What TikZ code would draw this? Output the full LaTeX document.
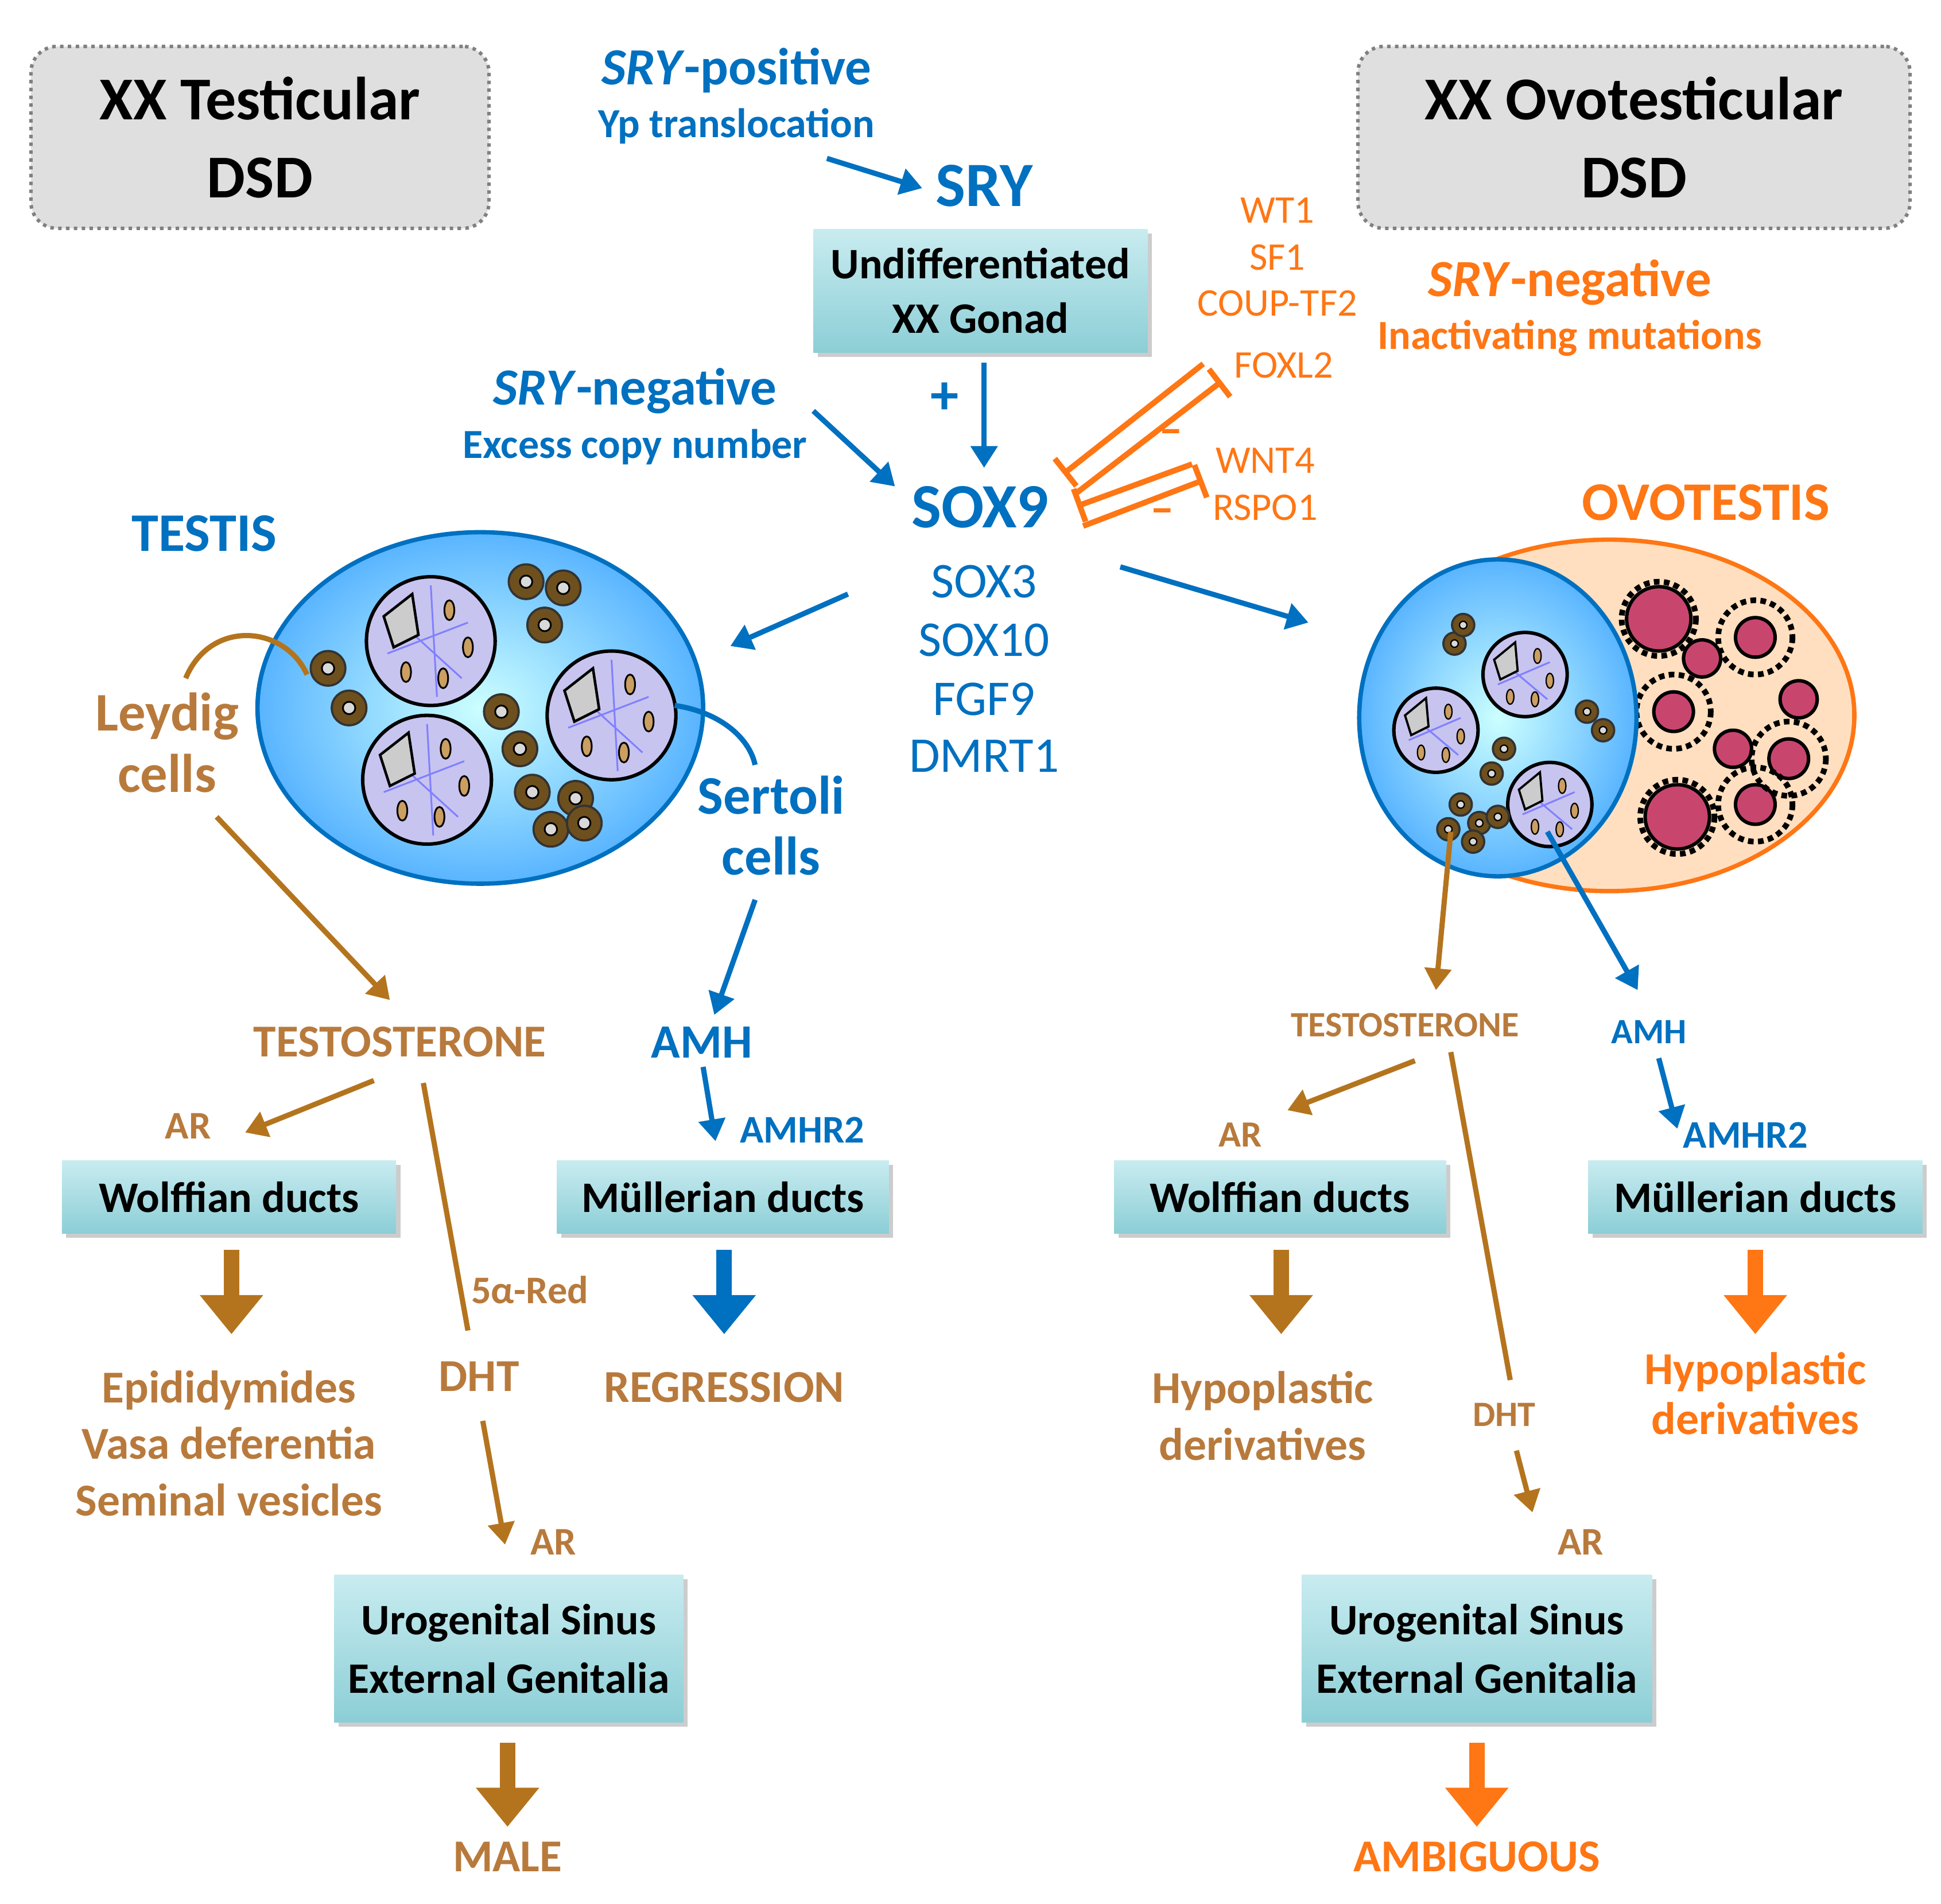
\documentclass[tikz,border=0pt]{standalone}
\usepackage{fontspec}
\setmainfont{Carlito}
\usetikzlibrary{arrows.meta,shadows}
\definecolor{bl}{RGB}{0,112,192}
\definecolor{org}{RGB}{255,118,20}
\definecolor{brn}{RGB}{180,116,30}
\definecolor{brt}{RGB}{184,122,60}
\definecolor{cyl}{RGB}{200,236,240}
\definecolor{cyd}{RGB}{140,206,214}
\definecolor{lav}{RGB}{200,196,240}
\definecolor{lc}{RGB}{110,80,30}
\definecolor{pk}{RGB}{200,70,110}
\newcommand{\fs}[1]{\fontsize{#1}{#1}\selectfont}
\begin{document}
\begin{tikzpicture}[x=0.1mm,y=-0.1mm,
 title/.style={draw=gray,densely dotted,line width=.8pt,fill=gray!25,rounded corners=6pt,font=\fontsize{14}{18}\selectfont\bfseries,align=center},
 box/.style={top color=cyl,bottom color=cyd,drop shadow={shadow xshift=1pt,shadow yshift=-1pt,opacity=.4},font=\fontsize{10}{12.5}\selectfont\bfseries,align=center,inner sep=0pt},
 arr/.style={-{Triangle[length=5pt,width=6pt]},line width=1.2pt},
 fat/.style={-{Triangle[length=9pt,width=14pt]},line width=3.6pt},
 inh/.style={line width=1.3pt,org},
 tee/.style={-{Bar[width=8pt]}},
 tub/.style={draw=black,line width=.8pt,fill=lav},
 ley/.style={draw=black!80,fill=lc,line width=.5pt},
 fol/.style={draw=black,line width=.8pt,fill=pk}]
\useasboundingbox (0,0) rectangle (1568,1538);
% titles
\node[title,minimum width=37mm,minimum height=14.7mm] (t1) at (210,111) {XX Testicular\\DSD};
\node[title,minimum width=44.6mm,minimum height=14.7mm] (t2) at (1320,111) {XX Ovotesticular\\DSD};
% top center
\node[bl,font=\fs{12}\bfseries] (sp) at (595,57) {\textit{SRY}-positive};
\node[bl,font=\fs{9.5}\bfseries] (yp) at (595,102) {Yp translocation};
\node[bl,font=\fs{14.5}\bfseries] (sry) at (795,150) {SRY};
\coordinate (a1) at (668,128); \coordinate (a2) at (745,152);
\draw[arr,bl] (a1) -- (a2);
\node[box,minimum width=27mm,minimum height=10mm] (gon) at (792,235) {Undifferentiated\\XX Gonad};
\node[bl,font=\fs{13}\bfseries] (plus) at (763,322) {+};
\node[bl,font=\fs{14.5}\bfseries] (sox9) at (792,410) {SOX9};
\coordinate (g1) at (795,293); \coordinate (g2) at (795,378);
\draw[arr,bl] (g1) -- (g2);
\node[bl,font=\fs{12}\bfseries] (sn) at (513,316) {\textit{SRY}-negative};
\node[bl,font=\fs{9.5}\bfseries] (ec) at (513,361) {Excess copy number};
\coordinate (e1) at (657,332); \coordinate (e2) at (723,393);
\draw[arr,bl] (e1) -- (e2);
\foreach \t/\y/\n in {SOX3/470/s3,SOX10/517/s10,FGF9/565/f9,DMRT1/611/dm}
 \node[bl,font=\fs{11.5}] (\n) at (795,\y) {\t};
% orange
\foreach \t/\x/\y/\n in {WT1/1032/170/w1,SF1/1032/208/sf,COUP-TF2/1032/245/cp,FOXL2/1037/295/fx,WNT4/1022/372/wn,RSPO1/1022/410/rs}
 \node[org,font=\fs{9}] (\n) at (\x,\y) {\t};
\node[org,font=\fs{12}\bfseries] (sn2) at (1268,228) {\textit{SRY}-negative};
\node[org,font=\fs{9.5}\bfseries] (im) at (1268,273) {Inactivating mutations};
\coordinate (i1a) at (972,294); \coordinate (i1b) at (859,383);
\coordinate (i2a) at (870,398); \coordinate (i2b) at (987,308);
\coordinate (i3a) at (963,375); \coordinate (i3b) at (870,409);
\coordinate (i4a) at (875,425); \coordinate (i4b) at (972,388);
\draw[inh,tee] (i1a) -- (i1b);
\draw[inh,tee] (i2a) -- (i2b);
\draw[inh,tee] (i3a) -- (i3b);
\draw[inh,tee] (i4a) -- (i4b);
\node[org,font=\fs{11}\bfseries] (m1) at (946,353) {--};
\node[org,font=\fs{11}\bfseries] (m2) at (939,417) {--};
% testis
\node[bl,font=\fs{12.5}\bfseries] (tl) at (165,431) {TESTIS};
\shade[inner color=cyan!20,outer color=cyan!55!blue!65,draw=bl,line width=1pt] (388,572) ellipse [x radius=180,y radius=142];
\foreach \cx/\cy in {348/518,494/578,345/630}{
 \draw[tub] (\cx,\cy) ellipse [x radius=52,y radius=52];
 \draw[blue!50,line width=.4pt] (\cx-30,\cy-20) -- (\cx+25,\cy+30) (\cx-35,\cy+10) -- (\cx+30,\cy-15) (\cx,\cy-45)--(\cx+5,\cy+45);
 \draw[black,fill=gray!40,line width=.6pt] (\cx-38,\cy-20) -- (\cx-15,\cy-38) -- (\cx-10,\cy-5) -- (\cx-30,\cy+5) -- cycle;
 \foreach \dx/\dy in {15/-25,30/5,-20/25,10/30}
  \draw[black,fill=brn!70,line width=.4pt] (\cx+\dx,\cy+\dy) ellipse [x radius=4,y radius=8];}
\foreach \cx/\cy in {425/470,455/475,440/505,265/540,282/572,405/575,420/605,430/640,465/645,445/670,472/665}
 {\draw[ley] (\cx,\cy) ellipse [x radius=14,y radius=14]; \draw[fill=gray!30,line width=.4pt] (\cx,\cy) ellipse [x radius=5,y radius=5];}
\node[brt,font=\fontsize{12.5}{14}\selectfont\bfseries,align=center] (ly) at (135,600) {Leydig\\cells};
\coordinate (l1) at (150,548); \coordinate (l2) at (248,545);
\draw[brn,line width=1.2pt] (l1) .. controls (170,500) and (230,505) .. (l2);
\node[bl,font=\fontsize{12.5}{14}\selectfont\bfseries,align=center] (se) at (623,667) {Sertoli\\cells};
\coordinate (s1) at (545,570); \coordinate (s2) at (610,618);
\draw[bl,line width=1.2pt] (s1) .. controls (580,575) and (605,595) .. (s2);
% arrows to gonads
\coordinate (b1) at (685,480); \coordinate (b2) at (590,522);
\draw[arr,bl] (b1) -- (b2);
\coordinate (c1) at (905,458); \coordinate (c2) at (1057,503);
\draw[arr,bl] (c1) -- (c2);
% ovotestis
\node[org,font=\fs{12.5}\bfseries] (ol) at (1378,406) {OVOTESTIS};
\draw[fill=orange!25,draw=org,line width=1pt] (1300,578) ellipse [x radius=198,y radius=142];
\foreach \cx/\cy/\r in {1340/500/26,1375/532/15,1418/515/16,1453/565/15,1352/575/16,1400/605/15,1445/613/16,1355/660/26,1418/650/16}{
 \draw[fol] (\cx,\cy) ellipse [x radius=\r,y radius=\r];}
\foreach \cx/\cy in {1340/500,1355/660,1418/515,1445/613,1418/650,1352/575}{\draw[black,line width=1.3pt,densely dotted] (\cx,\cy) ellipse [x radius=30,y radius=30];}
\shade[inner color=cyan!20,outer color=cyan!55!blue!65,draw=bl,line width=1pt] (1210,580) ellipse [x radius=112,y radius=128];
\foreach \cx/\cy in {1232/545,1160/590,1252/650}{
 \draw[tub] (\cx,\cy) ellipse [x radius=34,y radius=34];
 \draw[blue!50,line width=.4pt] (\cx-20,\cy-12) -- (\cx+18,\cy+20) (\cx-22,\cy+8) -- (\cx+20,\cy-10);
 \draw[black,fill=gray!40,line width=.5pt] (\cx-25,\cy-12) -- (\cx-8,\cy-26) -- (\cx-6,\cy-3) -- (\cx-20,\cy+4) -- cycle;
 \foreach \dx/\dy in {10/-15,20/5,-12/18,8/20}
  \draw[black,fill=brn!70,line width=.3pt] (\cx+\dx,\cy+\dy) ellipse [x radius=3,y radius=6];}
\foreach \cx/\cy in {1175/520,1182/505,1282/575,1295/590,1215/605,1205/625,1180/650,1195/665,1170/670,1190/680,1210/660}
 {\draw[ley] (\cx,\cy) ellipse [x radius=9,y radius=9]; \draw[fill=gray!30,line width=.3pt] (\cx,\cy) ellipse [x radius=3,y radius=3];}
% left lower
\coordinate (d1) at (175,660); \coordinate (d2) at (315,808);
\draw[arr,brn] (d1) -- (d2);
\node[brt,font=\fs{10.5}\bfseries] (tt) at (323,842) {TESTOSTERONE};
\coordinate (f1) at (610,727); \coordinate (f2) at (577,820);
\draw[arr,bl] (f1) -- (f2);
\node[bl,font=\fs{11}\bfseries] (amh) at (567,842) {AMH};
\node[brt,font=\fs{9}\bfseries] (ar1) at (152,910) {AR};
\coordinate (h1) at (302,873); \coordinate (h2) at (198,915);
\draw[arr,brn] (h1) -- (h2);
\coordinate (k1) at (342,875); \coordinate (k2) at (378,1075);
\draw[brn,line width=1.2pt] (k1) -- (k2);
\node[brt,font=\fs{9}\bfseries] (red) at (428,1042) {5α-Red};
\node[brt,font=\fs{10.5}\bfseries] (dht) at (387,1112) {DHT};
\coordinate (n1) at (390,1148); \coordinate (n2) at (408,1248);
\draw[arr,brn] (n1) -- (n2);
\node[brt,font=\fs{9}\bfseries] (ar2) at (447,1246) {AR};
\coordinate (p1) at (568,862); \coordinate (p2) at (578,922);
\draw[arr,bl] (p1) -- (p2);
\node[bl,font=\fs{9}\bfseries] (amr) at (648,913) {AMHR2};
\node[box,minimum width=27mm,minimum height=5.9mm] (wd) at (185,967) {Wolffian ducts};
\node[box,minimum width=26.8mm,minimum height=5.9mm] (md) at (584,967) {Müllerian ducts};
\coordinate (q1) at (187,1010); \coordinate (q2) at (187,1078);
\draw[fat,brn] (q1) -- (q2);
\coordinate (r1) at (585,1010); \coordinate (r2) at (585,1078);
\draw[fat,bl] (r1) -- (r2);
\node[brt,font=\fontsize{10.5}{13}\selectfont\bfseries,align=center] (epi) at (185,1166) {Epididymides\\Vasa deferentia\\Seminal vesicles};
\node[brt,font=\fs{10.5}\bfseries] (reg) at (585,1121) {REGRESSION};
\node[box,minimum width=28.2mm,minimum height=11.9mm] (ug1) at (411,1332) {Urogenital Sinus\\[1pt]External Genitalia};
\coordinate (u1) at (410,1408); \coordinate (u2) at (410,1476);
\draw[fat,brn] (u1) -- (u2);
\node[brt,font=\fs{10.5}\bfseries] (male) at (410,1500) {MALE};
% right lower
\coordinate (v1) at (1172,672); \coordinate (v2) at (1160,800);
\draw[arr,brn] (v1) -- (v2);
\coordinate (w1) at (1250,672); \coordinate (w2) at (1323,800);
\draw[arr,bl] (w1) -- (w2);
\node[brt,font=\fs{8.2}\bfseries] (tt2) at (1135,828) {TESTOSTERONE};
\node[bl,font=\fs{8.2}\bfseries] (amh2) at (1332,834) {AMH};
\node[brt,font=\fs{8.5}\bfseries] (ar3) at (1002,917) {AR};
\coordinate (x1) at (1143,857); \coordinate (x2) at (1040,897);
\draw[arr,brn] (x1) -- (x2);
\coordinate (y1) at (1172,850); \coordinate (y2) at (1220,1115);
\draw[brn,line width=1.2pt] (y1) -- (y2);
\node[brt,font=\fs{8.2}\bfseries] (dht2) at (1215,1143) {DHT};
\coordinate (z1) at (1225,1172); \coordinate (z2) at (1238,1222);
\draw[arr,brn] (z1) -- (z2);
\node[brt,font=\fs{9}\bfseries] (ar4) at (1277,1246) {AR};
\coordinate (o1) at (1340,855); \coordinate (o2) at (1355,912);
\draw[arr,bl] (o1) -- (o2);
\node[bl,font=\fs{9}\bfseries] (amr2) at (1410,917) {AMHR2};
\node[box,minimum width=26.8mm,minimum height=5.9mm] (wd2) at (1034,967) {Wolffian ducts};
\node[box,minimum width=27mm,minimum height=5.9mm] (md2) at (1418,967) {Müllerian ducts};
\coordinate (q3) at (1035,1010); \coordinate (q4) at (1035,1078);
\draw[fat,brn] (q3) -- (q4);
\coordinate (r3) at (1418,1010); \coordinate (r4) at (1418,1078);
\draw[fat,org] (r3) -- (r4);
\node[brt,font=\fontsize{10.5}{13}\selectfont\bfseries,align=center] (hp1) at (1020,1144) {Hypoplastic\\derivatives};
\node[org,font=\fontsize{10.5}{11.5}\selectfont\bfseries,align=center] (hp2) at (1418,1126) {Hypoplastic\\derivatives};
\node[box,minimum width=28.3mm,minimum height=11.9mm] (ug2) at (1193,1332) {Urogenital Sinus\\[1pt]External Genitalia};
\coordinate (u3) at (1193,1408); \coordinate (u4) at (1193,1476);
\draw[fat,org] (u3) -- (u4);
\node[org,font=\fs{10.5}\bfseries] (amb) at (1193,1500) {AMBIGUOUS};
\end{tikzpicture}
\end{document}
